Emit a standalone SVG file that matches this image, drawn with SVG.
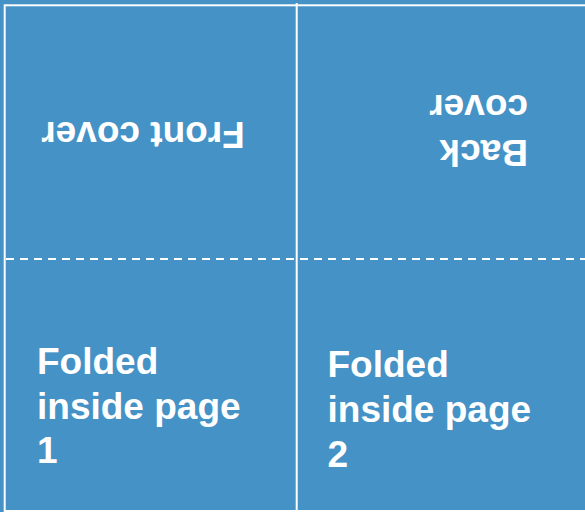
<svg xmlns="http://www.w3.org/2000/svg" width="585" height="512" viewBox="0 0 585 512">
<style>
.lbl{font-family:"Liberation Sans",Arial,sans-serif;font-weight:bold;font-size:37px;fill:#ffffff}
.ln{stroke:#ffffff;stroke-width:2;fill:none}
</style>
<rect x="0" y="0" width="585" height="512" fill="#4492C6"/>
<g id="connectors">
<rect class="ln" x="4.7" y="5.3" width="600" height="505.7"/>
<line class="ln" x1="296.7" y1="3" x2="296.7" y2="512"/>
<line class="ln" x1="6" y1="259" x2="585" y2="259" stroke-dasharray="8 6"/>
</g>
<g id="front-cover">
<text class="lbl" text-anchor="middle" transform="translate(143,122) rotate(180)">Front cover</text>
</g>
<g id="back-cover">
<text class="lbl" transform="translate(528,140) rotate(180)"><tspan x="0" y="0">Back</tspan><tspan x="0" y="45">cover</tspan></text>
</g>
<g id="inside-page-1">
<text class="lbl"><tspan x="37" y="374">Folded</tspan><tspan x="37" y="419">inside page</tspan><tspan x="37" y="463">1</tspan></text>
</g>
<g id="inside-page-2">
<text class="lbl"><tspan x="327.5" y="377">Folded</tspan><tspan x="327.5" y="422">inside page</tspan><tspan x="327.5" y="467">2</tspan></text>
</g>
</svg>
